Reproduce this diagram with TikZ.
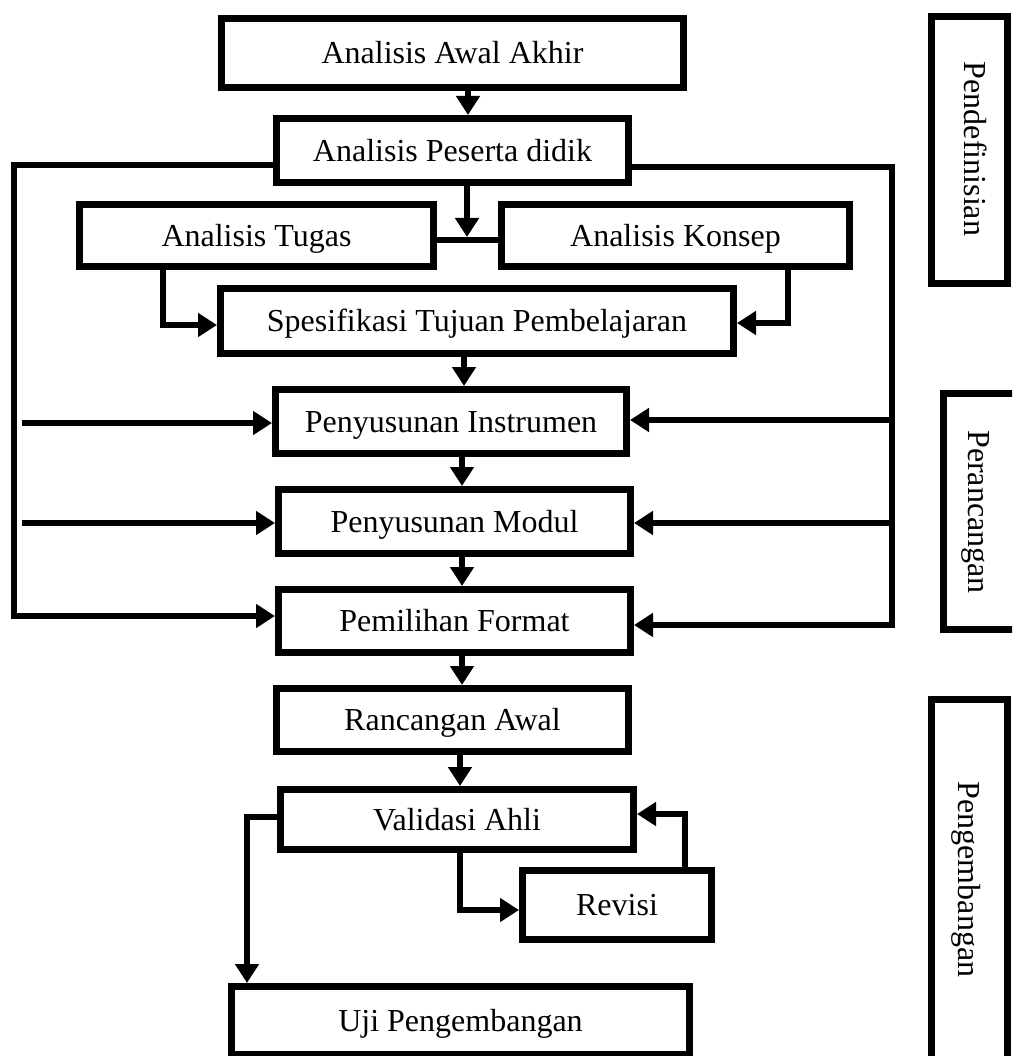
\documentclass[tikz,border=0pt]{standalone}
\usepackage{fontspec}
\setmainfont{Liberation Serif}
\usetikzlibrary{arrows.meta}
\begin{document}
\begin{tikzpicture}[x=1pt,y=-1pt,
  box/.style={draw, line width=7pt, rectangle, inner sep=0pt,
    font=\fontsize{32pt}{38pt}\selectfont, text height=21.2pt, text depth=0pt},
  lbl/.style={inner sep=0pt, font=\fontsize{32pt}{38pt}\selectfont,
    text height=21.2pt, text depth=0pt, rotate=-90},
  conn/.style={line width=6.5pt},
  arr/.style={conn, -{Triangle[length=19pt,width=23pt]}},
]
\useasboundingbox (0,0) rectangle (1012,1056);
\clip (0,0) rectangle (1012,1056);

% main boxes
\node[box, minimum width=462pt, minimum height=69pt] (aaa) at (452.5,53) {Analisis Awal Akhir};
\node[box, minimum width=352pt, minimum height=64pt] (pes) at (452.5,150.5) {Analisis Peserta didik};
\node[box, minimum width=354pt, minimum height=62pt] (tug) at (256.5,235.5) {Analisis Tugas};
\node[box, minimum width=348pt, minimum height=62pt] (kon) at (675.5,235.5) {Analisis Konsep};
\node[box, minimum width=513pt, minimum height=65pt] (spe) at (477,321) {Spesifikasi Tujuan Pembelajaran};
\node[box, minimum width=351pt, minimum height=64pt] (ins) at (451,421.5) {Penyusunan Instrumen};
\node[box, minimum width=352pt, minimum height=64pt] (mod) at (454.5,521.5) {Penyusunan Modul};
\node[box, minimum width=352pt, minimum height=63pt] (fmt) at (454.5,621) {Pemilihan Format};
\node[box, minimum width=352pt, minimum height=63pt] (ran) at (452.5,720) {Rancangan Awal};
\node[box, minimum width=353pt, minimum height=60pt] (val) at (457,819.5) {Validasi Ahli};
\node[box, minimum width=189pt, minimum height=69pt] (rev) at (617,905) {Revisi};
\node[box, minimum width=458pt, minimum height=68pt] (uji) at (460.5,1020.5) {Uji Pengembangan};

% phase boxes
\node[box, minimum width=76pt, minimum height=267pt] (pdef) at (969.5,150) {};
\node[lbl] (tdef) at (975,149) {Pendefinisian};
\node[box, minimum width=75pt, minimum height=236pt] (pran) at (981,511.5) {};
\node[lbl] (tran) at (979,512) {Perancangan};
\node[box, minimum width=76pt, minimum height=360pt] (ppen) at (969.5,879.5) {};
\node[lbl] (tpen) at (969.5,879.5) {Pengembangan};

% free ends
\coordinate (jn) at (467,237);
\coordinate (L1) at (22,423);
\coordinate (L2) at (22,523);
\coordinate (R1) at (892,420);
\coordinate (R2) at (892,523);

% connectors
\draw[arr] (aaa.south -| 468,0) -- (pes.north -| 468,0);
\draw[arr] (pes.south -| 467,0) -- (jn);
\draw[conn] ([yshift=-4.5pt]tug.east) -- ([yshift=-4.5pt]kon.west);
\draw[arr] ([xshift=-93.5pt]tug.south) |- ([yshift=-4pt]spe.west);
\draw[arr] ([xshift=112.5pt]kon.south) |- ([yshift=-2pt]spe.east);
\draw[arr] (spe.south -| 464,0) -- (ins.north -| 464,0);
\draw[arr] (ins.south -| 462,0) -- (mod.north -| 462,0);
\draw[arr] (mod.south -| 462,0) -- (fmt.north -| 462,0);
\draw[arr] (fmt.south -| 462,0) -- (ran.north -| 462,0);
\draw[arr] (ran.south -| 460,0) -- (val.north -| 460,0);

% left feedback
\draw[arr] (pes.west |- 0,165) -- (14,165) -- (14,616) -- (fmt.west |- 0,616);
\draw[arr] (L1) -- (ins.west |- L1);
\draw[arr] (L2) -- (mod.west |- L2);
% right feedback
\draw[arr] (pes.east |- 0,167) -- (892,167) -- (892,625) -- (fmt.east |- 0,625);
\draw[arr] (R1) -- (ins.east |- R1);
\draw[arr] (R2) -- (mod.east |- R2);

% validation loop
\draw[arr] (val.south -| 460,0) |- ([yshift=-5pt]rev.west);
\draw[arr] (rev.north -| 685,0) |- (val.east |- 0,814);
\draw[arr] (val.west |- 0,817) -| (uji.north -| 247,0);
\end{tikzpicture}
\end{document}
